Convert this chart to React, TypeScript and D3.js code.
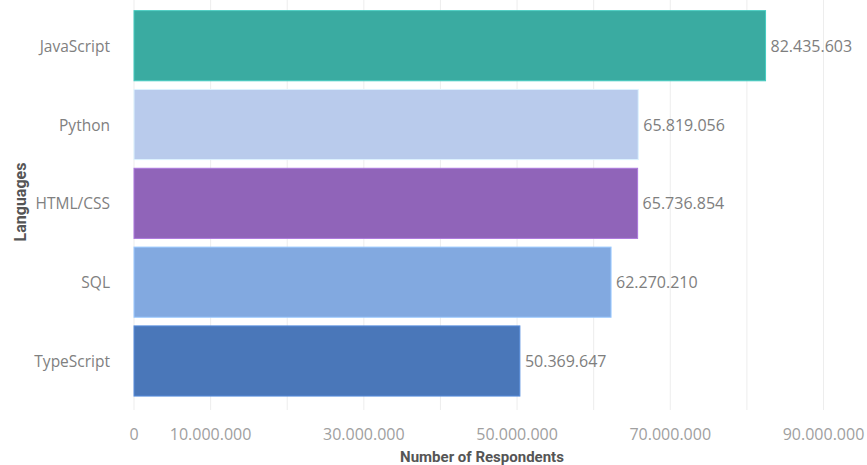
import React from "react";
import * as d3 from "d3";

const languages = ["JavaScript", "Python", "HTML/CSS", "SQL", "TypeScript"];
const respondents = [82435603, 65819056, 65736854, 62270210, 50369647];
const barColors = ["#3aaba1", "#b9cbec", "#9064b9", "#82a9e0", "#4a77b9"];
const gridTicks = [0, 10000000, 20000000, 30000000, 40000000, 50000000, 60000000, 70000000, 80000000, 90000000];
const labelTicks = [0, 10000000, 30000000, 50000000, 70000000, 90000000];

const W = 867;
const H = 465;

const locale = d3.formatLocale({ thousands: ".", decimal: ",", grouping: [3], currency: ["", ""] });
const fmt = locale.format(",d");

export default function App() {
  const x = d3.scaleLinear().domain([0, 90000000]).range([134, 823.5]);
  const y = d3.scaleBand<string>().domain(languages).range([6.7, 400]).paddingInner(0.11).paddingOuter(0.05);
  const font = "'Open Sans', 'Noto Sans', sans-serif";
  return (
    <svg width={W} height={H} style={{ position: "absolute", left: 0, top: 0, display: "block", background: "#fff" }}>
      <g>
        {gridTicks.map((t) => (
          <line key={t} x1={x(t)} x2={x(t)} y1={0} y2={410} stroke="#ededed" strokeWidth={1} />
        ))}
      </g>
      <g>
        {languages.map((l, i) => (
          <rect
            key={l}
            x={x(0)}
            y={y(l)!}
            width={x(respondents[i]) - x(0)}
            height={y.bandwidth()}
            fill={barColors[i]}
            stroke={d3.color(barColors[i])!.brighter(0.5).formatHex()}
            strokeWidth={1}
          />
        ))}
      </g>
      <g fontFamily={font} fontSize={15.5} fill="#808080">
        {languages.map((l) => (
          <text key={l} x={110} y={y(l)! + y.bandwidth() / 2} textAnchor="end" dominantBaseline="central">
            {l}
          </text>
        ))}
      </g>
      <g fontFamily={font} fontSize={16} fill="#7e7e7e">
        {languages.map((l, i) => (
          <text key={l} x={x(respondents[i]) + 5} y={y(l)! + y.bandwidth() / 2} dominantBaseline="central">
            {fmt(respondents[i])}
          </text>
        ))}
      </g>
      <g fontFamily={font} fontSize={16} fill="#a0a0a0">
        {labelTicks.map((t) => (
          <text key={t} x={x(t)} y={434} textAnchor="middle" dominantBaseline="central">
            {fmt(t)}
          </text>
        ))}
      </g>
      <text x={482} y={457} textAnchor="middle" dominantBaseline="central" fontFamily="Roboto, sans-serif" fontWeight="bold" fontSize={15} fill="#555">
        Number of Respondents
      </text>
      <text
        transform={`translate(20,202) rotate(-90)`}
        textAnchor="middle"
        dominantBaseline="central"
        fontFamily="Roboto, sans-serif"
        fontWeight="bold"
        fontSize={16}
        fill="#555"
      >
        Languages
      </text>
    </svg>
  );
}
